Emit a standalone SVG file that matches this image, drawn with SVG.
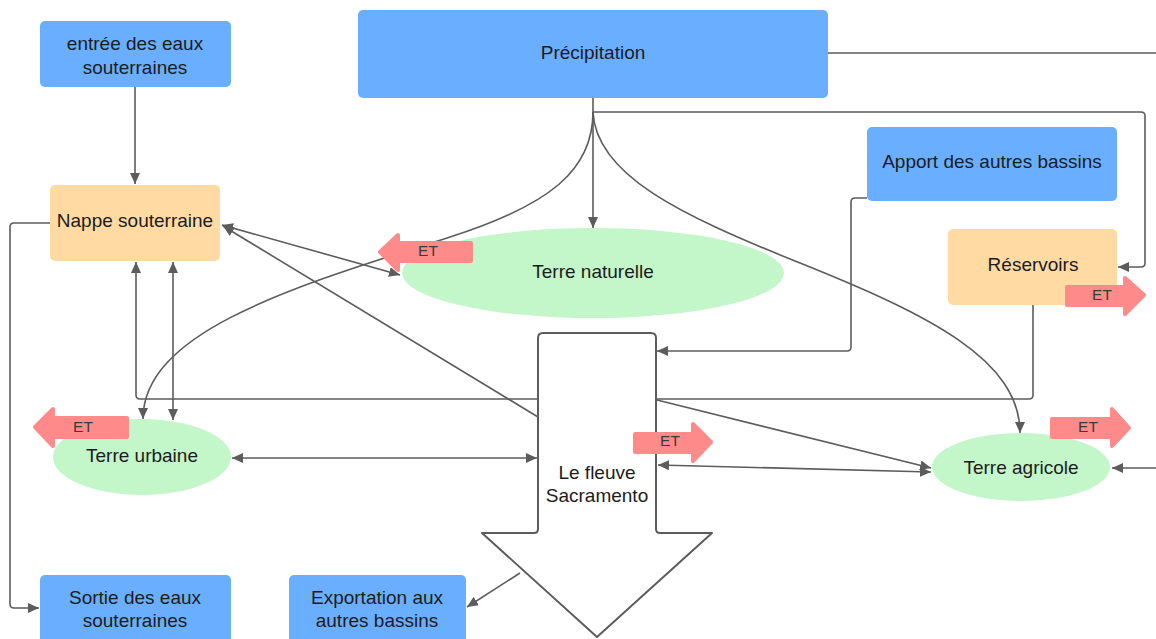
<svg xmlns="http://www.w3.org/2000/svg" width="1156" height="639" viewBox="0 0 1156 639">
<style>
.blue{fill:#6AAFFF}
.orange{fill:#FFDBA3}
.green{fill:#C3F6C8}
.et{fill:#FF8A8A;stroke:#FF8A8A;stroke-width:4;stroke-linejoin:round}
.t{font-family:"Liberation Sans",Arial,sans-serif;font-size:19px;fill:#1c1c1c;text-anchor:middle}
.ett{font-family:"Liberation Sans",Arial,sans-serif;font-size:15.5px;fill:#3a3a3a;text-anchor:middle}
.c{fill:none;stroke:#5c5c5c;stroke-width:1.6}
</style>
<defs>
<marker id="a" viewBox="0 0 11 10" refX="11" refY="5" markerWidth="11" markerHeight="10" markerUnits="userSpaceOnUse" orient="auto-start-reverse">
<path d="M0,0 L11,5 L0,10 z" fill="#5c5c5c"/>
</marker>
</defs>
<rect width="1156" height="639" fill="#ffffff"/>
<g id="connectors">
<path class="c" d="M135,87 L135,184" marker-end="url(#a)"/>
<path class="c" d="M828,53 L1156,53"/>
<path class="c" d="M593,98 L593,228" marker-end="url(#a)"/>
<path class="c" d="M593,112 L1141,112 Q1145,112 1145,116 L1145,263 Q1145,267 1141,267 L1118,267" marker-end="url(#a)"/>
<path class="c" d="M593,112 C593,170 550,205 450,237 C300,285 143,330 143,419" marker-end="url(#a)"/>
<path class="c" d="M593,112 C596,175 680,215 800,263 C930,315 1020,360 1020,433" marker-end="url(#a)"/>
<path class="c" d="M867,198 L855,198 Q851,198 851,202 L851,347 Q851,351 847,351 L657,351" marker-end="url(#a)"/>
<path class="c" d="M1033,305 L1033,395 Q1033,399 1029,399 L140,399 Q136,399 136,395 L136,262" marker-end="url(#a)"/>
<path class="c" d="M222,225 L400,275" marker-start="url(#a)" marker-end="url(#a)"/>
<path class="c" d="M538,417 L223,226" marker-end="url(#a)"/>
<path class="c" d="M173,262 L173,420" marker-start="url(#a)" marker-end="url(#a)"/>
<path class="c" d="M232,458 L537,458" marker-start="url(#a)" marker-end="url(#a)"/>
<path class="c" d="M657,400 L931,468" marker-end="url(#a)"/>
<path class="c" d="M658,465 L931,472" marker-start="url(#a)" marker-end="url(#a)"/>
<path class="c" d="M1156,468 L1112,468" marker-end="url(#a)"/>
<path class="c" d="M50,223 L14,223 Q10,223 10,227 L10,604 Q10,608 14,608 L39,608" marker-end="url(#a)"/>
<path class="c" d="M520,573 L467,607" marker-end="url(#a)"/>
</g>
<g id="entree">
<rect class="blue" x="40" y="21" width="191" height="66" rx="5"/>
<text class="t" x="135" y="50">entrée des eaux</text>
<text class="t" x="135" y="74">souterraines</text>
</g>
<g id="precipitation">
<rect class="blue" x="358" y="10" width="470" height="88" rx="5"/>
<text class="t" x="593" y="59">Précipitation</text>
</g>
<g id="apport">
<rect class="blue" x="867" y="127" width="250" height="74" rx="5"/>
<text class="t" x="992" y="168">Apport des autres bassins</text>
</g>
<g id="nappe">
<rect class="orange" x="50" y="185" width="170" height="76" rx="5"/>
<text class="t" x="135" y="227">Nappe souterraine</text>
</g>
<g id="reservoirs">
<rect class="orange" x="948" y="229" width="169" height="76" rx="5"/>
<text class="t" x="1033" y="271">Réservoirs</text>
<path class="et" d="M1067,287 L1125,287 L1125,278 L1144,295 L1125,314 L1125,305 L1067,305 Z"/>
<text class="ett" x="1102" y="300">ET</text>
</g>
<g id="terre-naturelle">
<ellipse class="green" cx="593" cy="273" rx="191" ry="45"/>
<text class="t" x="593" y="278">Terre naturelle</text>
<path class="et" d="M380,252 L398,235 L398,243 L471,243 L471,261 L398,261 L398,270 Z"/>
<text class="ett" x="428" y="256">ET</text>
</g>
<g id="terre-urbaine">
<ellipse class="green" cx="142" cy="457" rx="89" ry="38"/>
<text class="t" x="142" y="462">Terre urbaine</text>
<path class="et" d="M35,427 L53,409 L53,418 L127,418 L127,437 L53,437 L53,446 Z"/>
<text class="ett" x="83" y="432">ET</text>
</g>
<g id="terre-agricole">
<ellipse class="green" cx="1021" cy="467" rx="89" ry="34"/>
<text class="t" x="1021" y="474">Terre agricole</text>
<path class="et" d="M1052,419 L1112,419 L1112,409 L1129,428 L1112,446 L1112,437 L1052,437 Z"/>
<text class="ett" x="1088" y="432">ET</text>
</g>
<g id="sacramento">
<path d="M538,338 Q538,333 543,333 L651,333 Q656,333 656,338 L656,529 Q656,533 660,533 L712,533 L597,637 L482,533 L534,533 Q538,533 538,529 Z" fill="#ffffff" stroke="#5c5c5c" stroke-width="2" stroke-linejoin="round"/>
<text class="t" x="597" y="479">Le fleuve</text>
<text class="t" x="597" y="502">Sacramento</text>
<path class="et" d="M635,434 L693,434 L693,424 L711,442 L693,461 L693,452 L635,452 Z"/>
<text class="ett" x="670" y="446">ET</text>
</g>
<g id="sortie">
<rect class="blue" x="40" y="575" width="191" height="70" rx="5"/>
<text class="t" x="135" y="604">Sortie des eaux</text>
<text class="t" x="135" y="627">souterraines</text>
</g>
<g id="exportation">
<rect class="blue" x="289" y="575" width="177" height="70" rx="5"/>
<text class="t" x="377" y="604">Exportation aux</text>
<text class="t" x="377" y="627">autres bassins</text>
</g>
</svg>
